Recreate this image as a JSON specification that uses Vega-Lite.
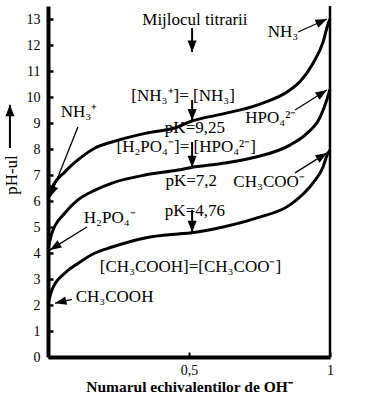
{
  "$schema": "https://vega.github.io/schema/vega-lite/v6.json",
  "width": 282,
  "height": 351,
  "autosize": {"type": "none"},
  "padding": {"left": 48, "top": 6, "right": 46, "bottom": 40},
  "background": "white",
  "config": {
    "view": {"stroke": null},
    "font": "Liberation Serif",
    "axis": {"grid": false, "labelColor": "black", "domainColor": "black", "tickColor": "black", "titleColor": "black", "labelFont": "Liberation Serif", "titleFont": "Liberation Serif", "labelOverlap": false, "labelFontSize": 14},
    "axisX": {"labelFlush": false, "domainWidth": 4, "tickSize": -5, "tickWidth": 2, "labelPadding": 11, "titleFontSize": 15.5, "titleFontWeight": "bold", "titlePadding": 2},
    "axisY": {"domainWidth": 4, "tickSize": -5, "tickWidth": 2.5, "labelPadding": 13}
  },
  "datasets": {
    "curves": [
      {"acid": "NH4", "f": 0, "ph": 6.1}, {"acid": "NH4", "f": 0.014, "ph": 6.5}, {"acid": "NH4", "f": 0.06, "ph": 7.12}, {"acid": "NH4", "f": 0.106, "ph": 7.58}, {"acid": "NH4", "f": 0.167, "ph": 8.04}, {"acid": "NH4", "f": 0.227, "ph": 8.27}, {"acid": "NH4", "f": 0.344, "ph": 8.6}, {"acid": "NH4", "f": 0.461, "ph": 8.85}, {"acid": "NH4", "f": 0.504, "ph": 9.05}, {"acid": "NH4", "f": 0.621, "ph": 9.35}, {"acid": "NH4", "f": 0.741, "ph": 9.69}, {"acid": "NH4", "f": 0.858, "ph": 10.27}, {"acid": "NH4", "f": 0.894, "ph": 10.6}, {"acid": "NH4", "f": 0.94, "ph": 11.3}, {"acid": "NH4", "f": 0.975, "ph": 12.1}, {"acid": "NH4", "f": 0.993, "ph": 12.8}, {"acid": "NH4", "f": 1, "ph": 13.0},
      {"acid": "H2PO4", "f": 0, "ph": 4.15}, {"acid": "H2PO4", "f": 0.014, "ph": 4.77}, {"acid": "H2PO4", "f": 0.06, "ph": 5.54}, {"acid": "H2PO4", "f": 0.106, "ph": 6.04}, {"acid": "H2PO4", "f": 0.167, "ph": 6.42}, {"acid": "H2PO4", "f": 0.227, "ph": 6.69}, {"acid": "H2PO4", "f": 0.344, "ph": 7.0}, {"acid": "H2PO4", "f": 0.461, "ph": 7.19}, {"acid": "H2PO4", "f": 0.504, "ph": 7.28}, {"acid": "H2PO4", "f": 0.621, "ph": 7.45}, {"acid": "H2PO4", "f": 0.741, "ph": 7.7}, {"acid": "H2PO4", "f": 0.858, "ph": 8.15}, {"acid": "H2PO4", "f": 0.918, "ph": 8.6}, {"acid": "H2PO4", "f": 0.965, "ph": 9.23}, {"acid": "H2PO4", "f": 0.989, "ph": 9.9}, {"acid": "H2PO4", "f": 1, "ph": 10.3},
      {"acid": "CH3COOH", "f": 0, "ph": 2.05}, {"acid": "CH3COOH", "f": 0.014, "ph": 2.58}, {"acid": "CH3COOH", "f": 0.06, "ph": 3.23}, {"acid": "CH3COOH", "f": 0.106, "ph": 3.6}, {"acid": "CH3COOH", "f": 0.167, "ph": 4.0}, {"acid": "CH3COOH", "f": 0.227, "ph": 4.23}, {"acid": "CH3COOH", "f": 0.344, "ph": 4.58}, {"acid": "CH3COOH", "f": 0.461, "ph": 4.73}, {"acid": "CH3COOH", "f": 0.504, "ph": 4.77}, {"acid": "CH3COOH", "f": 0.621, "ph": 5.0}, {"acid": "CH3COOH", "f": 0.741, "ph": 5.35}, {"acid": "CH3COOH", "f": 0.858, "ph": 5.85}, {"acid": "CH3COOH", "f": 0.94, "ph": 6.7}, {"acid": "CH3COOH", "f": 0.975, "ph": 7.3}, {"acid": "CH3COOH", "f": 0.99, "ph": 7.77}, {"acid": "CH3COOH", "f": 1, "ph": 7.96}
    ],
    "thinArrows": [
      {"x": 0.106, "y": 8.85, "x2": 0.007, "y2": 6.15},
      {"x": 0.138, "y": 5.0, "x2": 0.007, "y2": 4.12},
      {"x": 0.085, "y": 2.22, "x2": 0.025, "y2": 2.07},
      {"x": 0.887, "y": 12.5, "x2": 0.989, "y2": 13.0},
      {"x": 0.876, "y": 9.5, "x2": 0.989, "y2": 10.27},
      {"x": 0.876, "y": 7.08, "x2": 0.989, "y2": 7.85}
    ],
    "thickArrows": [
      {"x": 0.511, "y": 12.65, "x2": 0.511, "y2": 11.73},
      {"x": 0.511, "y": 9.88, "x2": 0.511, "y2": 9.1},
      {"x": 0.511, "y": 8.27, "x2": 0.511, "y2": 7.3},
      {"x": 0.511, "y": 5.65, "x2": 0.511, "y2": 4.8},
      {"x": -0.135, "y": 8.04, "x2": -0.135, "y2": 9.7}
    ],
    "labels": [
      {"t": "Mijlocul titrarii", "x": 0.521, "y": 12.96},
      {"t": "[NH₃⁺]=  [NH₃]", "x": 0.479, "y": 10.04},
      {"t": "pK=9,25", "x": 0.521, "y": 8.8},
      {"t": "[H₂PO₄⁻]= [HPO₄²⁻]", "x": 0.49, "y": 8.08},
      {"t": "pK=7,2", "x": 0.508, "y": 6.77},
      {"t": "pK=4,76", "x": 0.521, "y": 5.6},
      {"t": "[CH₃COOH]=[CH₃COO⁻]", "x": 0.505, "y": 3.46},
      {"t": "CH₃COOH", "x": 0.236, "y": 2.3},
      {"t": "H₂PO₄⁻", "x": 0.219, "y": 5.35},
      {"t": "NH₃⁺", "x": 0.11, "y": 9.42},
      {"t": "NH₃", "x": 0.833, "y": 12.5},
      {"t": "HPO₄²⁻", "x": 0.79, "y": 9.19},
      {"t": "CH₃COO⁻", "x": 0.784, "y": 6.72}
    ],
    "one": [{}]
  },
  "layer": [
    {
      "data": {"name": "curves"},
      "mark": {"type": "line", "interpolate": "monotone", "color": "black", "strokeWidth": 3},
      "encoding": {
        "x": {"field": "f", "type": "quantitative", "scale": {"domain": [0, 1], "nice": false},
          "axis": {"values": [0.5, 1], "labelExpr": "datum.value == 0.5 ? '0,5' : '1'", "title": "Numarul echivalentilor de OH⁻"}},
        "y": {"field": "ph", "type": "quantitative", "scale": {"domain": [0, 13.5], "nice": false},
          "axis": {"values": [0,1,2,3,4,5,6,7,8,9,10,11,12,13], "title": null}},
        "detail": {"field": "acid"}
      }
    },
    {
      "data": {"name": "one"},
      "mark": {"type": "rule", "color": "black", "strokeWidth": 2.5},
      "encoding": {
        "x": {"datum": 1, "type": "quantitative", "axis": {"values": [0.5, 1], "labelExpr": "datum.value == 0.5 ? '0,5' : '1'", "title": "Numarul echivalentilor de OH⁻"}},
        "y": {"datum": 0, "type": "quantitative", "axis": {"values": [0,1,2,3,4,5,6,7,8,9,10,11,12,13], "title": null}},
        "y2": {"datum": 13.5}
      }
    },
    {
      "data": {"name": "thinArrows"},
      "mark": {"type": "rule", "color": "black", "strokeWidth": 1.3},
      "encoding": {
        "x": {"field": "x", "type": "quantitative", "axis": {"values": [0.5, 1], "labelExpr": "datum.value == 0.5 ? '0,5' : '1'", "title": "Numarul echivalentilor de OH⁻"}},
        "y": {"field": "y", "type": "quantitative", "axis": {"values": [0,1,2,3,4,5,6,7,8,9,10,11,12,13], "title": null}},
        "x2": {"field": "x2"}, "y2": {"field": "y2"}
      }
    },
    {
      "data": {"name": "thinArrows"},
      "transform": [{"calculate": "atan2((datum.x2-datum.x)*282, (datum.y2-datum.y)*26)*180/PI", "as": "ang"}],
      "mark": {"type": "point", "shape": "M0,0L-0.38,1L0.38,1Z", "filled": true, "color": "black", "opacity": 1, "size": 520},
      "encoding": {
        "x": {"field": "x2", "type": "quantitative", "axis": {"values": [0.5, 1], "labelExpr": "datum.value == 0.5 ? '0,5' : '1'", "title": "Numarul echivalentilor de OH⁻"}},
        "y": {"field": "y2", "type": "quantitative", "axis": {"values": [0,1,2,3,4,5,6,7,8,9,10,11,12,13], "title": null}},
        "angle": {"field": "ang", "type": "quantitative", "scale": null}
      }
    },
    {
      "data": {"name": "thickArrows"},
      "mark": {"type": "rule", "color": "black", "strokeWidth": 2},
      "encoding": {
        "x": {"field": "x", "type": "quantitative", "axis": {"values": [0.5, 1], "labelExpr": "datum.value == 0.5 ? '0,5' : '1'", "title": "Numarul echivalentilor de OH⁻"}},
        "y": {"field": "y", "type": "quantitative", "axis": {"values": [0,1,2,3,4,5,6,7,8,9,10,11,12,13], "title": null}},
        "x2": {"field": "x2"}, "y2": {"field": "y2"}
      }
    },
    {
      "data": {"name": "thickArrows"},
      "transform": [{"calculate": "atan2((datum.x2-datum.x)*282, (datum.y2-datum.y)*26)*180/PI", "as": "ang"}],
      "mark": {"type": "point", "shape": "M0,0L-0.4,1L0.4,1Z", "filled": true, "color": "black", "opacity": 1, "size": 520},
      "encoding": {
        "x": {"field": "x2", "type": "quantitative", "axis": {"values": [0.5, 1], "labelExpr": "datum.value == 0.5 ? '0,5' : '1'", "title": "Numarul echivalentilor de OH⁻"}},
        "y": {"field": "y2", "type": "quantitative", "axis": {"values": [0,1,2,3,4,5,6,7,8,9,10,11,12,13], "title": null}},
        "angle": {"field": "ang", "type": "quantitative", "scale": null}
      }
    },
    {
      "data": {"name": "labels"},
      "mark": {"type": "text", "fontSize": 17, "font": "Liberation Serif", "color": "black", "align": "center", "baseline": "middle"},
      "encoding": {
        "x": {"field": "x", "type": "quantitative", "axis": {"values": [0.5, 1], "labelExpr": "datum.value == 0.5 ? '0,5' : '1'", "title": "Numarul echivalentilor de OH⁻"}},
        "y": {"field": "y", "type": "quantitative", "axis": {"values": [0,1,2,3,4,5,6,7,8,9,10,11,12,13], "title": null}},
        "text": {"field": "t"}
      }
    },
    {
      "data": {"name": "one"},
      "mark": {"type": "text", "fontSize": 17, "font": "Liberation Serif", "color": "black", "align": "center", "baseline": "middle", "angle": 270, "text": "pH-ul"},
      "encoding": {
        "x": {"datum": -0.128, "type": "quantitative", "axis": {"values": [0.5, 1], "labelExpr": "datum.value == 0.5 ? '0,5' : '1'", "title": "Numarul echivalentilor de OH⁻"}},
        "y": {"datum": 7.0, "type": "quantitative", "axis": {"values": [0,1,2,3,4,5,6,7,8,9,10,11,12,13], "title": null}}
      }
    }
  ]
}
